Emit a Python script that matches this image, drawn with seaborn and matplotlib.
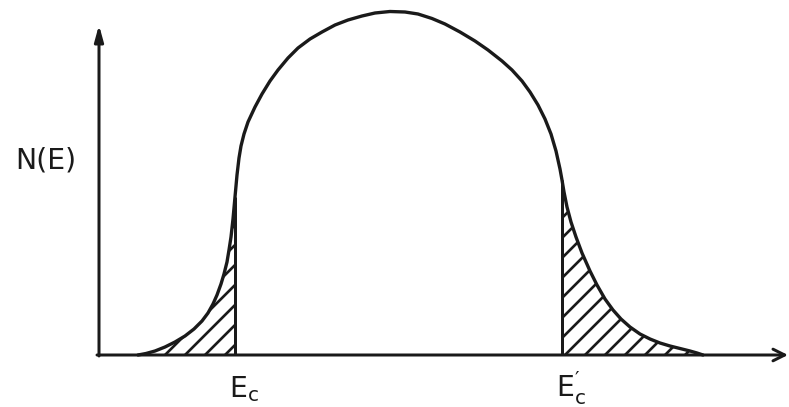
import numpy as np
import pandas as pd
import matplotlib
matplotlib.use("Agg")
import matplotlib.pyplot as plt
import seaborn as sns

# ---- data (energy in arbitrary units, N(E) height) ----
energy = [138, 146, 155, 165, 175, 185, 194, 202, 208, 213, 217, 221, 224, 227,
          229, 231, 233, 235, 237, 239, 241, 244, 248, 255, 262, 270, 278, 288,
          298, 310, 322, 335, 348, 362, 375, 390, 405, 418, 432, 445, 460, 475,
          488, 502, 512, 522, 530, 538, 545, 551, 556, 560, 562, 564, 567, 571,
          576, 582, 590, 597, 605, 613, 621, 630, 640, 650, 660, 670, 680, 690,
          697, 703]
density = [0, 1.5, 4, 8, 13, 19, 26, 34, 42, 51, 60, 71, 81, 93,
           105, 118, 136, 158, 180, 197, 209, 221, 233, 248, 261, 274, 285, 297,
           307, 316, 323, 330, 335, 339, 342, 343.5, 343, 341, 336.5, 331, 323, 314,
           305, 294, 285, 274, 263, 250, 236, 221, 204, 186, 175, 163, 148, 133,
           118, 102, 84, 70, 56, 45, 36, 28, 21, 16, 12, 9, 6.5, 4,
           2, 0]
mobility_edges = [235, 562]
edge_labels = ["$E_c$", "$E^{′}_{c}$"]
y_label = "N(E)"

df = pd.DataFrame({"E": energy, "N": density})

sns.set_style("white")
plt.rcParams["font.family"] = ["DejaVu Sans"]
plt.rcParams["mathtext.default"] = "regular"
plt.rcParams["hatch.linewidth"] = 1.6
plt.rcParams["hatch.color"] = "#1a1a1a"

ink = "#1a1a1a"
DPI = 120
fig = plt.figure(figsize=(789 / DPI, 407 / DPI), dpi=DPI)
ax = fig.add_axes([0, 0, 1, 1])
ax.set_xlim(0, 789)
ax.set_ylim(-52, 355)
ax.axis("off")

# curve
sns.lineplot(data=df, x="E", y="N", ax=ax, color=ink, linewidth=2.0,
             sort=False, estimator=None)

E = np.array(energy, float)
N = np.array(density, float)

# hatched tails beyond the mobility edges
ec_lo, ec_hi = mobility_edges
n_lo = np.interp(ec_lo, E, N)
n_hi = np.interp(ec_hi, E, N)
mask_l = E < ec_lo
xl = np.append(E[mask_l], ec_lo)
yl = np.append(N[mask_l], n_lo)
mask_r = E > ec_hi
xr = np.insert(E[mask_r], 0, ec_hi)
yr = np.insert(N[mask_r], 0, n_hi)
for xs, ys in [(xl, yl), (xr, yr)]:
    ax.fill_between(xs, 0, ys, facecolor="none", edgecolor=ink,
                    hatch="//", linewidth=0)

# vertical lines at the edges
for e, n in [(ec_lo, n_lo), (ec_hi, n_hi)]:
    ax.plot([e, e], [0, n], color=ink, linewidth=1.8, solid_capstyle="butt")

# axes with arrows
x0 = 99
ax.annotate("", xy=(788, 0), xytext=(x0 - 2, 0),
            arrowprops=dict(arrowstyle="->,head_length=0.7,head_width=0.35",
                            color=ink, lw=1.8, shrinkA=0, shrinkB=0))
ax.annotate("", xy=(x0, 330), xytext=(x0, -1),
            arrowprops=dict(arrowstyle="-|>,head_length=0.8,head_width=0.22",
                            color=ink, lw=1.8, shrinkA=0, shrinkB=0))

# labels
ax.text(46, 194, y_label, fontsize=17, color=ink, ha="center", va="center")
for e, lab in zip(mobility_edges, edge_labels):
    ax.text(e - 6, -42, lab, fontsize=17, color=ink, ha="left", va="baseline")

fig.savefig("out.png", dpi=DPI)
